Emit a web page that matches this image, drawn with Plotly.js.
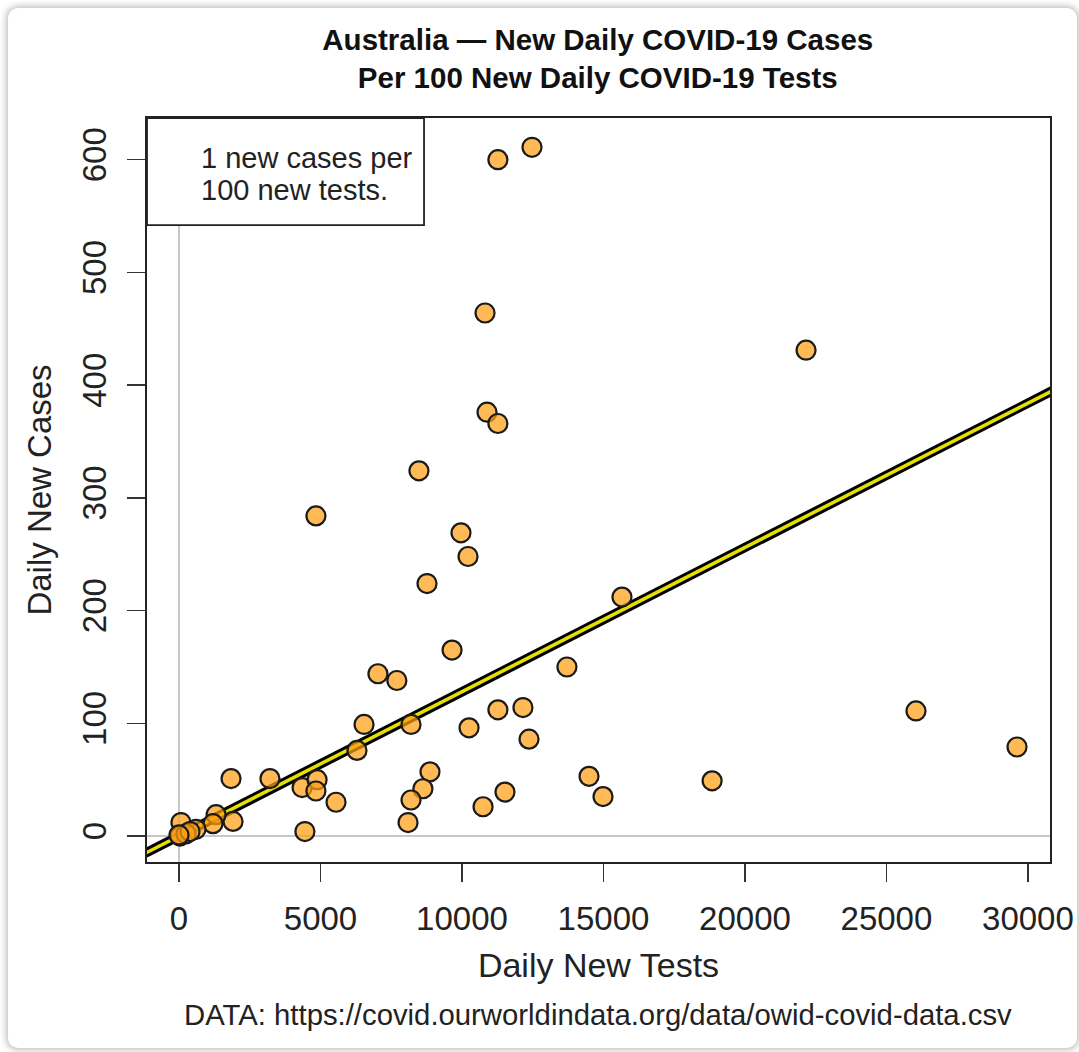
<!DOCTYPE html>
<html>
<head>
<meta charset="utf-8">
<script src="https://cdn.plot.ly/plotly-3.0.1.min.js"></script>
<style>
  html, body { margin: 0; padding: 0; background: #ffffff; }
  #card { position: absolute; left: 8px; top: 8px; width: 1069px; height: 1040px;
          border-radius: 10px; box-shadow: 0 0 6px 2px rgba(0,0,0,0.25); background: #fff; }
  #chart { position: absolute; left: 0; top: 0; width: 1079px; height: 1052px; }
</style>
</head>
<body>
<div id="card"></div>
<div id="chart"></div>
<script>
// Daily new tests (x) and daily new cases (y)
const dailyTests = [11270, 12475, 10815, 22160, 10885, 11270, 8480, 4840, 9965, 10215,
  8765, 15655, 9650, 13710, 7030, 7700, 11270, 12155, 26045, 6540,
  8200, 10250, 12370, 29615, 6290, 1840, 3215, 4350, 4880, 4840,
  5550, 8870, 8620, 8200, 8095, 10745, 11520, 14490, 14985, 18840,
  4450, 1910, 1310, 1200, 600, 70, 35, 250, 390, 0];
const dailyCases = [600, 611, 464, 431, 376, 366, 324, 284, 269, 248,
  224, 212, 165, 150, 144, 138, 112, 114, 111, 99,
  99, 96, 86, 79, 76, 51, 51, 43, 50, 40,
  30, 57, 42, 32, 12, 26, 39, 53, 35, 49,
  4, 13, 19, 11, 6, 12, 0, 2, 4, 1];
// Reference line: cases per test
const lineSlope = 0.0128;
const lineTests = [-1200, 31000];
const lineCases = lineTests.map(t => t * lineSlope);

const xTicks = [0, 5000, 10000, 15000, 20000, 25000, 30000];
const yTicks = [0, 100, 200, 300, 400, 500, 600];

const font = "Liberation Sans, Arial, Helvetica, sans-serif";

const traces = [
  { x: lineTests, y: lineCases, mode: 'lines', line: { color: '#000000', width: 9.5 }, hoverinfo: 'skip', showlegend: false },
  { x: lineTests, y: lineCases, mode: 'lines', line: { color: '#e6e000', width: 3.5 }, hoverinfo: 'skip', showlegend: false },
  { x: dailyTests, y: dailyCases, mode: 'markers', showlegend: false,
    marker: { size: 19, color: 'rgba(255,160,20,0.72)', line: { color: '#1a1a1a', width: 2.2 } } }
];

const layout = {
  width: 1079, height: 1052,
  paper_bgcolor: 'rgba(0,0,0,0)', plot_bgcolor: '#ffffff',
  margin: { l: 147, r: 29, t: 118, b: 190 },
  font: { family: font, color: '#222222', size: 24 },
  title: { text: '<b>Australia — New Daily COVID-19 Cases<br>Per 100 New Daily COVID-19 Tests</b>',
           x: 0.554, xanchor: 'center', y: 1 - 50 / 1052, yanchor: 'middle',
           font: { family: font, size: 29.5, color: '#111111' } },
  xaxis: {
    range: [-1131, 30780], tickvals: xTicks, ticktext: xTicks.map(String),
    ticks: 'outside', ticklen: 18, tickwidth: 1.5, tickcolor: '#333',
    showline: true, mirror: true, linecolor: '#222', linewidth: 2,
    showgrid: false, zeroline: true, zerolinecolor: '#c8c8c8', zerolinewidth: 1.5,
    tickfont: { size: 33, color: '#222' }, ticklabelstandoff: 8,
    title: { text: 'Daily New Tests', font: { size: 34, color: '#222' }, standoff: 18 }
  },
  yaxis: {
    range: [-23, 637], tickvals: yTicks, ticktext: yTicks.map(String), tickangle: -90,
    ticks: 'outside', ticklen: 18, tickwidth: 1.5, tickcolor: '#333',
    showline: true, mirror: true, linecolor: '#222', linewidth: 2,
    showgrid: false, zeroline: true, zerolinecolor: '#c8c8c8', zerolinewidth: 1.5,
    tickfont: { size: 33, color: '#222' }, ticklabelstandoff: 8,
    title: { text: 'Daily New Cases', font: { size: 33, color: '#222' }, standoff: 14 }
  },
  shapes: [
    { type: 'rect', xref: 'paper', yref: 'paper', x0: 0, x1: 0.3068, y0: 0.856, y1: 1,
      line: { color: '#222', width: 1.8 }, fillcolor: '#ffffff', layer: 'above' }
  ],
  annotations: [
    { xref: 'paper', yref: 'paper', x: 0.0576, y: 0.946, xanchor: 'left', yanchor: 'middle',
      text: '1 new cases per', align: 'left', showarrow: false,
      font: { size: 29, color: '#222' } },
    { xref: 'paper', yref: 'paper', x: 0.0576, y: 0.903, xanchor: 'left', yanchor: 'middle',
      text: '100 new tests.', align: 'left', showarrow: false,
      font: { size: 29, color: '#222' } },
    { xref: 'paper', yref: 'paper', x: 0.4994, y: -0.2056, xanchor: 'center', yanchor: 'middle',
      text: 'DATA: https://covid.ourworldindata.org/data/owid-covid-data.csv', showarrow: false,
      font: { size: 29.3, color: '#222' } }
  ]
};

Plotly.newPlot('chart', traces, layout, { displayModeBar: false, staticPlot: true });
</script>
</body>
</html>
